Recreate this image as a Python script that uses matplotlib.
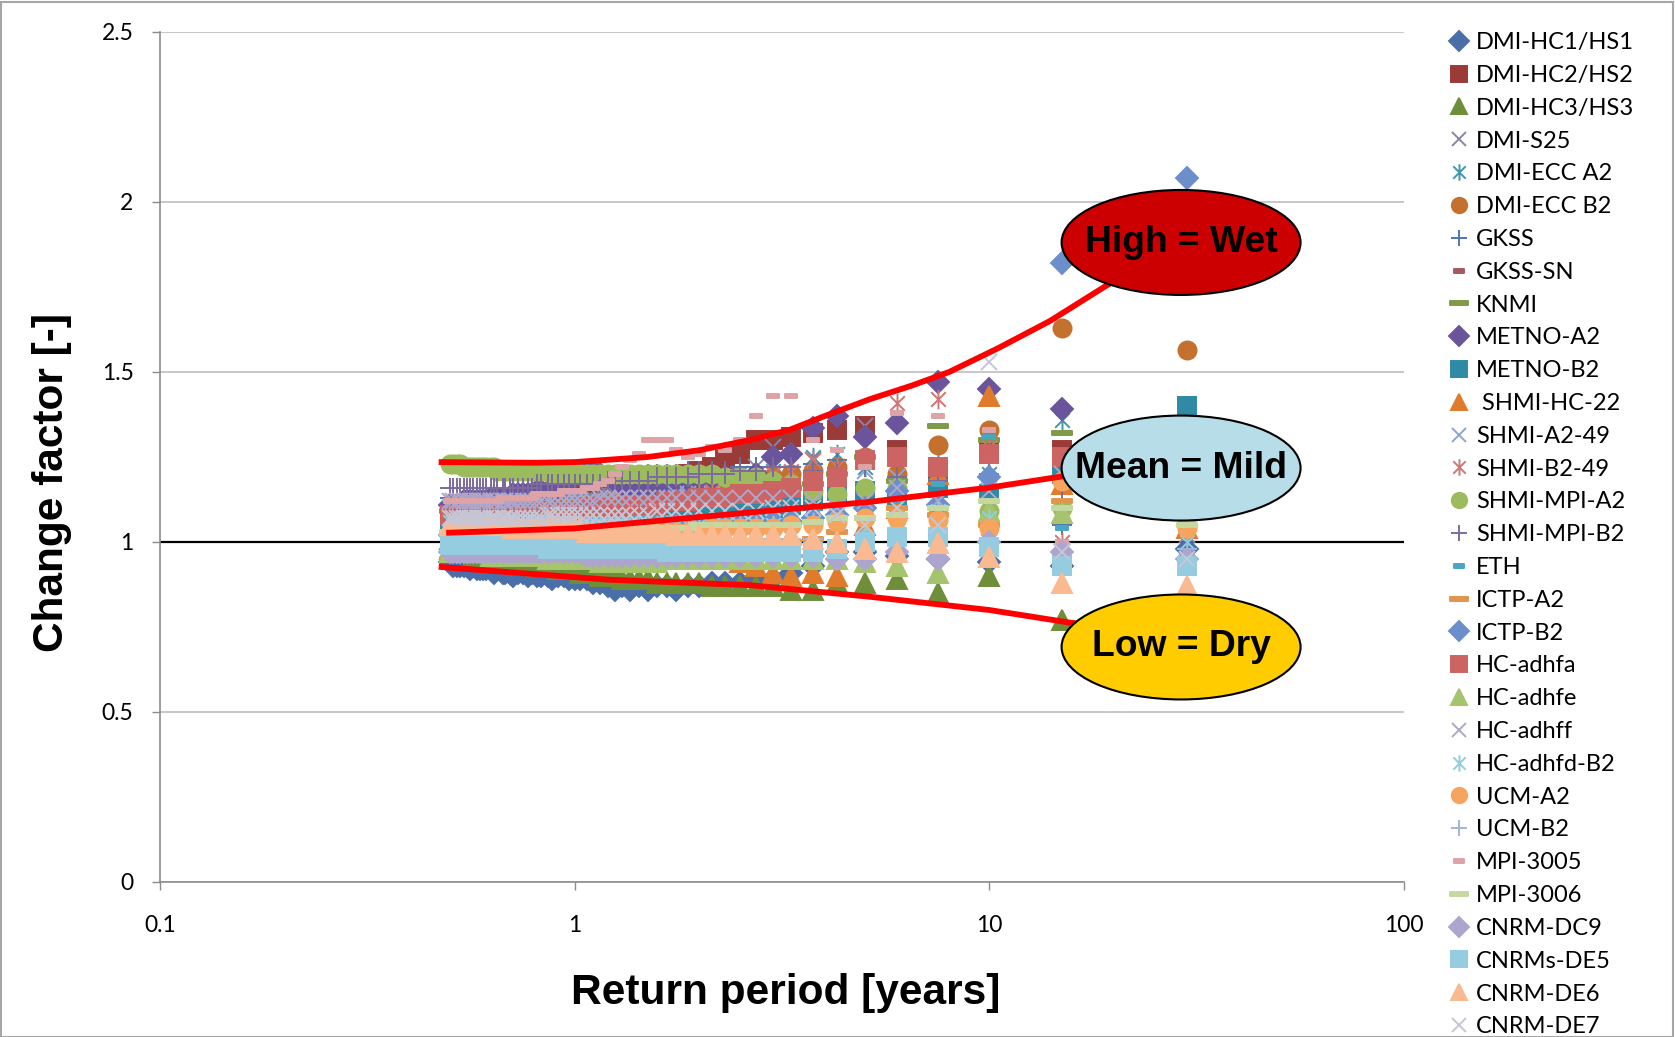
import matplotlib
matplotlib.use("Agg")
import matplotlib.pyplot as plt
from matplotlib.patches import Ellipse, Rectangle
from matplotlib.path import Path

# return periods [years] of the ranked events (largest first)
return_period = [30, 15, 10, 7.5, 6, 5, 4.29, 3.75, 3.33, 3.0,
                 2.73, 2.5, 2.31, 2.14, 2.0, 1.88, 1.76, 1.67, 1.58, 1.5,
                 1.43, 1.36, 1.3, 1.25, 1.2, 1.15, 1.11, 1.07, 1.03, 1.0,
                 0.97, 0.94, 0.91, 0.88, 0.86, 0.83, 0.81, 0.79, 0.77, 0.75,
                 0.73, 0.71, 0.70, 0.68, 0.67, 0.65, 0.64, 0.63, 0.61, 0.60,
                 0.59, 0.58, 0.57, 0.56, 0.55, 0.54, 0.53, 0.52, 0.51, 0.50]

dmi_hc1 = [0.98, 0.93, 0.94, 0.95, 0.96, 0.97, 0.97, 0.93, 0.91, 0.89,
           0.89, 0.88, 0.88, 0.88, 0.87, 0.87, 0.86, 0.87, 0.87, 0.86,
           0.87, 0.86, 0.87, 0.86, 0.87, 0.88, 0.88, 0.89, 0.89, 0.89,
           0.89, 0.90, 0.90, 0.89, 0.90, 0.90, 0.90, 0.91, 0.90, 0.91,
           0.91, 0.90, 0.91, 0.91, 0.91, 0.92, 0.91, 0.92, 0.92, 0.92,
           0.92, 0.92, 0.93, 0.92, 0.93, 0.93, 0.93, 0.93, 0.93, 0.94]
dmi_hc2 = [1.22, 1.27, 1.27, 1.21, 1.27, 1.34, 1.33, 1.32, 1.31, 1.30,
           1.30, 1.26, 1.24, 1.22, 1.21, 1.20, 1.19, 1.19, 1.18, 1.18,
           1.17, 1.17, 1.16, 1.16, 1.16, 1.15, 1.15, 1.15, 1.14, 1.14,
           1.14, 1.14, 1.13, 1.13, 1.13, 1.13, 1.12, 1.12, 1.12, 1.12,
           1.12, 1.11, 1.11, 1.11, 1.11, 1.11, 1.10, 1.10, 1.10, 1.10,
           1.10, 1.10, 1.10, 1.09, 1.09, 1.09, 1.09, 1.09, 1.09, 1.08]
dmi_hc3 = [0.74, 0.77, 0.90, 0.85, 0.89, 0.88, 0.88, 0.86, 0.86, 0.87,
           0.87, 0.87, 0.87, 0.87, 0.88, 0.88, 0.88, 0.88, 0.88, 0.89,
           0.89, 0.89, 0.89, 0.90, 0.90, 0.90, 0.91, 0.91, 0.91, 0.92,
           0.92, 0.92, 0.92, 0.93, 0.93, 0.93, 0.93, 0.94, 0.94, 0.94,
           0.94, 0.94, 0.95, 0.95, 0.95, 0.95, 0.95, 0.96, 0.96, 0.96,
           0.96, 0.96, 0.96, 0.97, 0.97, 0.97, 0.97, 0.97, 0.97, 0.98]
dmi_s25 = [1.02, 0.97, 1.10, 1.05, 1.12, 1.34, 1.22, 1.24, 1.20, 1.28,
           1.22, 1.20, 1.19, 1.18, 1.17, 1.17, 1.16, 1.16, 1.16, 1.15,
           1.15, 1.15, 1.14, 1.14, 1.14, 1.14, 1.13, 1.13, 1.13, 1.13,
           1.13, 1.12, 1.12, 1.12, 1.12, 1.12, 1.12, 1.11, 1.11, 1.11,
           1.11, 1.11, 1.11, 1.11, 1.10, 1.10, 1.10, 1.10, 1.10, 1.10,
           1.10, 1.10, 1.09, 1.09, 1.09, 1.09, 1.09, 1.09, 1.09, 1.08]
dmi_ecc_a2 = [1.15, 1.36, 1.20, 1.23, 1.18, 1.22, 1.26, 1.25, 1.23, 1.21,
              1.20, 1.19, 1.18, 1.17, 1.17, 1.16, 1.15, 1.15, 1.14, 1.14,
              1.14, 1.13, 1.13, 1.13, 1.12, 1.12, 1.12, 1.12, 1.11, 1.11,
              1.11, 1.11, 1.11, 1.10, 1.10, 1.10, 1.10, 1.10, 1.10, 1.09,
              1.09, 1.09, 1.09, 1.09, 1.09, 1.09, 1.08, 1.08, 1.08, 1.08,
              1.08, 1.08, 1.08, 1.08, 1.08, 1.07, 1.07, 1.07, 1.07, 1.07]
dmi_ecc_b2 = [1.565, 1.63, 1.33, 1.285, 1.20, 1.25, 1.22, 1.21, 1.20, 1.19,
              1.18, 1.17, 1.16, 1.16, 1.15, 1.15, 1.14, 1.14, 1.13, 1.13,
              1.13, 1.12, 1.12, 1.12, 1.11, 1.11, 1.11, 1.11, 1.10, 1.10,
              1.10, 1.10, 1.10, 1.09, 1.09, 1.09, 1.09, 1.09, 1.08, 1.08,
              1.08, 1.08, 1.08, 1.08, 1.07, 1.07, 1.07, 1.07, 1.07, 1.07,
              1.07, 1.06, 1.06, 1.06, 1.06, 1.06, 1.06, 1.06, 1.05, 1.05]
gkss = [0.98, 1.05, 1.26, 1.14, 1.18, 1.23, 1.24, 1.23, 1.22, 1.22,
        1.22, 1.22, 1.21, 1.21, 1.21, 1.21, 1.20, 1.20, 1.20, 1.20,
        1.19, 1.19, 1.19, 1.19, 1.18, 1.18, 1.18, 1.18, 1.17, 1.17,
        1.17, 1.17, 1.17, 1.16, 1.16, 1.16, 1.16, 1.16, 1.15, 1.15,
        1.15, 1.15, 1.15, 1.15, 1.15, 1.14, 1.14, 1.14, 1.14, 1.14,
        1.14, 1.14, 1.14, 1.14, 1.13, 1.13, 1.13, 1.13, 1.13, 1.13]
gkss_sn = [1.11, 1.00, 1.13, 1.09, 1.08, 1.10, 1.08, 1.08, 1.07, 1.07,
           1.07, 1.07, 1.07, 1.06, 1.06, 1.06, 1.06, 1.06, 1.06, 1.05,
           1.05, 1.05, 1.05, 1.05, 1.05, 1.05, 1.05, 1.04, 1.04, 1.04,
           1.04, 1.04, 1.04, 1.04, 1.04, 1.04, 1.04, 1.04, 1.03, 1.03,
           1.03, 1.03, 1.03, 1.03, 1.03, 1.03, 1.03, 1.03, 1.03, 1.03,
           1.03, 1.03, 1.03, 1.02, 1.02, 1.02, 1.02, 1.02, 1.02, 1.02]
knmi = [1.20, 1.32, 1.30, 1.34, 1.18, 1.25, 1.20, 1.17, 1.16, 1.15,
        1.15, 1.15, 1.14, 1.14, 1.14, 1.14, 1.13, 1.13, 1.13, 1.13,
        1.13, 1.12, 1.12, 1.12, 1.12, 1.12, 1.12, 1.12, 1.11, 1.11,
        1.11, 1.11, 1.11, 1.11, 1.11, 1.11, 1.10, 1.10, 1.10, 1.10,
        1.10, 1.10, 1.10, 1.10, 1.10, 1.10, 1.10, 1.10, 1.10, 1.09,
        1.09, 1.09, 1.09, 1.09, 1.09, 1.09, 1.09, 1.09, 1.09, 1.09]
metno_a2 = [1.25, 1.39, 1.45, 1.47, 1.35, 1.31, 1.37, 1.335, 1.26, 1.25,
            1.20, 1.19, 1.19, 1.18, 1.18, 1.18, 1.17, 1.17, 1.17, 1.17,
            1.16, 1.16, 1.17, 1.18, 1.19, 1.20, 1.21, 1.21, 1.20, 1.19,
            1.18, 1.17, 1.16, 1.16, 1.15, 1.15, 1.15, 1.14, 1.14, 1.14,
            1.14, 1.14, 1.13, 1.13, 1.13, 1.13, 1.13, 1.13, 1.12, 1.12,
            1.12, 1.12, 1.12, 1.12, 1.12, 1.12, 1.11, 1.11, 1.11, 1.11]
metno_b2 = [1.40, 1.20, 1.14, 1.16, 1.13, 1.15, 1.15, 1.12, 1.11, 1.10,
            1.10, 1.09, 1.09, 1.09, 1.08, 1.08, 1.08, 1.08, 1.07, 1.07,
            1.07, 1.07, 1.07, 1.07, 1.06, 1.06, 1.06, 1.06, 1.06, 1.06,
            1.06, 1.06, 1.05, 1.05, 1.05, 1.05, 1.05, 1.05, 1.05, 1.05,
            1.05, 1.05, 1.05, 1.05, 1.04, 1.04, 1.04, 1.04, 1.04, 1.04,
            1.04, 1.04, 1.04, 1.04, 1.04, 1.04, 1.04, 1.04, 1.04, 1.04]
shmi_hc22 = [1.04, 1.17, 1.43, 1.20, 1.10, 1.05, 0.90, 0.91, 0.90, 0.91,
             0.93, 0.94, 0.95, 0.95, 0.96, 0.96, 0.96, 0.97, 0.97, 0.97,
             0.97, 0.97, 0.98, 0.98, 0.98, 0.98, 0.98, 0.98, 0.98, 0.99,
             0.99, 0.99, 0.99, 0.99, 0.99, 0.99, 0.99, 0.99, 1.00, 1.00,
             1.00, 1.00, 1.00, 1.00, 1.00, 1.00, 1.00, 1.00, 1.00, 1.00,
             1.00, 1.01, 1.01, 1.01, 1.01, 1.01, 1.01, 1.01, 1.01, 1.01]
shmi_a2_49 = [0.96, 0.97, 1.00, 1.02, 1.19, 1.21, 1.12, 1.15, 1.16, 1.15,
              1.15, 1.15, 1.14, 1.14, 1.14, 1.14, 1.14, 1.13, 1.13, 1.13,
              1.13, 1.13, 1.13, 1.13, 1.12, 1.12, 1.12, 1.12, 1.12, 1.12,
              1.12, 1.12, 1.12, 1.12, 1.11, 1.11, 1.11, 1.11, 1.11, 1.11,
              1.11, 1.11, 1.11, 1.11, 1.11, 1.11, 1.11, 1.10, 1.10, 1.10,
              1.10, 1.10, 1.10, 1.10, 1.10, 1.10, 1.10, 1.10, 1.10, 1.10]
shmi_b2_49 = [1.26, 1.00, 1.28, 1.42, 1.41, 1.25, 1.22, 1.24, 1.21, 1.20,
              1.18, 1.17, 1.16, 1.15, 1.14, 1.13, 1.13, 1.12, 1.12, 1.11,
              1.11, 1.11, 1.10, 1.10, 1.10, 1.10, 1.10, 1.09, 1.09, 1.09,
              1.09, 1.09, 1.09, 1.09, 1.08, 1.08, 1.08, 1.08, 1.08, 1.08,
              1.08, 1.08, 1.08, 1.08, 1.08, 1.07, 1.07, 1.07, 1.07, 1.07,
              1.07, 1.07, 1.07, 1.07, 1.07, 1.07, 1.07, 1.07, 1.07, 1.07]
shmi_mpi_a2 = [1.10, 1.10, 1.09, 1.10, 1.16, 1.16, 1.14, 1.15, 1.17, 1.18,
               1.19, 1.19, 1.19, 1.20, 1.20, 1.20, 1.20, 1.20, 1.20, 1.20,
               1.20, 1.20, 1.20, 1.20, 1.20, 1.20, 1.20, 1.20, 1.20, 1.20,
               1.20, 1.20, 1.20, 1.20, 1.21, 1.21, 1.21, 1.21, 1.21, 1.21,
               1.21, 1.21, 1.21, 1.21, 1.21, 1.21, 1.22, 1.22, 1.22, 1.22,
               1.22, 1.22, 1.22, 1.22, 1.22, 1.22, 1.23, 1.23, 1.23, 1.23]
shmi_mpi_b2 = [1.22, 1.12, 1.20, 1.18, 1.19, 1.22, 1.20, 1.21, 1.22, 1.22,
               1.21, 1.21, 1.20, 1.20, 1.20, 1.19, 1.19, 1.19, 1.19, 1.18,
               1.18, 1.18, 1.18, 1.18, 1.18, 1.17, 1.17, 1.17, 1.17, 1.17,
               1.17, 1.17, 1.17, 1.17, 1.17, 1.17, 1.17, 1.16, 1.16, 1.16,
               1.16, 1.16, 1.16, 1.16, 1.16, 1.16, 1.16, 1.16, 1.16, 1.16,
               1.16, 1.16, 1.16, 1.16, 1.16, 1.16, 1.16, 1.16, 1.16, 1.16]
eth = [1.06, 1.04, 1.31, 1.17, 1.12, 1.08, 1.10, 1.09, 1.08, 1.08,
       1.08, 1.08, 1.08, 1.07, 1.07, 1.07, 1.07, 1.07, 1.07, 1.07,
       1.07, 1.06, 1.06, 1.06, 1.06, 1.06, 1.06, 1.06, 1.06, 1.06,
       1.06, 1.06, 1.06, 1.06, 1.06, 1.05, 1.05, 1.05, 1.05, 1.05,
       1.05, 1.05, 1.05, 1.05, 1.05, 1.05, 1.05, 1.05, 1.05, 1.05,
       1.05, 1.05, 1.05, 1.05, 1.05, 1.05, 1.05, 1.05, 1.05, 1.05]
ictp_a2 = [1.08, 1.12, 1.05, 1.08, 1.10, 1.07, 1.03, 1.01, 1.00, 0.99,
           0.98, 0.98, 0.97, 0.97, 0.97, 0.97, 0.96, 0.96, 0.96, 0.96,
           0.96, 0.96, 0.96, 0.96, 0.96, 0.96, 0.96, 0.95, 0.95, 0.95,
           0.95, 0.95, 0.95, 0.95, 0.95, 0.95, 0.95, 0.95, 0.95, 0.95,
           0.95, 0.95, 0.95, 0.95, 0.95, 0.95, 0.95, 0.95, 0.95, 0.95,
           0.95, 0.95, 0.95, 0.95, 0.95, 0.95, 0.95, 0.95, 0.95, 0.95]
ictp_b2 = [2.07, 1.82, 1.19, 1.11, 1.15, 1.10, 1.08, 1.07, 1.06, 1.06,
           1.06, 1.06, 1.05, 1.05, 1.05, 1.05, 1.05, 1.04, 1.04, 1.04,
           1.04, 1.04, 1.04, 1.04, 1.04, 1.03, 1.03, 1.03, 1.03, 1.03,
           1.03, 1.03, 1.03, 1.03, 1.03, 1.03, 1.03, 1.03, 1.03, 1.03,
           1.02, 1.02, 1.02, 1.02, 1.02, 1.02, 1.02, 1.02, 1.02, 1.02,
           1.02, 1.02, 1.02, 1.02, 1.02, 1.02, 1.02, 1.02, 1.02, 1.02]
hc_adhfa = [1.24, 1.25, 1.26, 1.22, 1.25, 1.24, 1.19, 1.18, 1.16, 1.15,
            1.14, 1.14, 1.13, 1.13, 1.13, 1.12, 1.12, 1.12, 1.11, 1.11,
            1.11, 1.11, 1.10, 1.10, 1.10, 1.10, 1.10, 1.10, 1.09, 1.09,
            1.09, 1.09, 1.09, 1.09, 1.09, 1.09, 1.09, 1.08, 1.08, 1.08,
            1.08, 1.08, 1.08, 1.08, 1.08, 1.08, 1.08, 1.08, 1.08, 1.08,
            1.08, 1.08, 1.08, 1.08, 1.08, 1.08, 1.08, 1.08, 1.08, 1.08]
hc_adhfe = [1.08, 1.085, 1.09, 0.91, 0.93, 0.94, 0.95, 0.95, 0.95, 0.95,
            0.95, 0.95, 0.95, 0.95, 0.95, 0.95, 0.95, 0.95, 0.94, 0.94,
            0.94, 0.94, 0.94, 0.94, 0.94, 0.94, 0.95, 0.95, 0.95, 0.95,
            0.95, 0.95, 0.95, 0.95, 0.95, 0.96, 0.96, 0.96, 0.96, 0.96,
            0.96, 0.96, 0.96, 0.96, 0.96, 0.96, 0.96, 0.96, 0.97, 0.97,
            0.97, 0.97, 0.97, 0.97, 0.97, 0.97, 0.97, 0.97, 0.97, 0.97]
hc_adhff = [1.10, 1.20, 1.15, 1.12, 1.16, 1.12, 1.10, 1.12, 1.13, 1.13,
            1.13, 1.13, 1.13, 1.13, 1.13, 1.13, 1.13, 1.13, 1.13, 1.13,
            1.13, 1.13, 1.13, 1.13, 1.13, 1.13, 1.12, 1.12, 1.12, 1.12,
            1.12, 1.12, 1.12, 1.12, 1.12, 1.12, 1.12, 1.12, 1.12, 1.12,
            1.12, 1.12, 1.12, 1.12, 1.12, 1.12, 1.12, 1.12, 1.12, 1.12,
            1.12, 1.12, 1.12, 1.12, 1.12, 1.12, 1.12, 1.12, 1.12, 1.12]
hc_adhfd_b2 = [1.00, 0.98, 1.07, 1.09, 1.03, 1.04, 1.06, 1.06, 1.05, 1.05,
               1.05, 1.05, 1.05, 1.05, 1.05, 1.05, 1.05, 1.05, 1.05, 1.05,
               1.05, 1.05, 1.05, 1.05, 1.05, 1.05, 1.05, 1.05, 1.05, 1.05,
               1.06, 1.06, 1.06, 1.06, 1.06, 1.06, 1.06, 1.06, 1.06, 1.06,
               1.06, 1.06, 1.06, 1.06, 1.06, 1.06, 1.06, 1.06, 1.06, 1.06,
               1.06, 1.06, 1.06, 1.06, 1.06, 1.06, 1.06, 1.06, 1.06, 1.06]
ucm_a2 = [1.04, 1.18, 1.04, 1.065, 1.07, 1.07, 1.06, 1.05, 1.05, 1.04,
          1.04, 1.04, 1.04, 1.04, 1.03, 1.03, 1.03, 1.03, 1.03, 1.03,
          1.03, 1.03, 1.03, 1.03, 1.03, 1.03, 1.03, 1.03, 1.03, 1.02,
          1.02, 1.02, 1.02, 1.02, 1.02, 1.02, 1.02, 1.02, 1.02, 1.02,
          1.02, 1.02, 1.02, 1.02, 1.02, 1.02, 1.02, 1.02, 1.02, 1.02,
          1.02, 1.02, 1.02, 1.02, 1.02, 1.02, 1.02, 1.02, 1.02, 1.02]
ucm_b2 = [0.98, 0.96, 1.00, 1.02, 1.01, 1.00, 1.00, 1.01, 1.01, 1.01,
          1.01, 1.01, 1.01, 1.01, 1.01, 1.01, 1.01, 1.00, 1.00, 1.00,
          1.00, 1.00, 1.00, 1.00, 1.00, 1.00, 1.00, 1.00, 1.00, 1.00,
          1.00, 1.00, 1.00, 1.00, 1.00, 1.00, 1.00, 1.00, 1.00, 1.00,
          1.00, 1.00, 1.00, 1.00, 1.00, 1.00, 1.00, 1.00, 1.00, 1.00,
          1.00, 1.00, 1.00, 1.00, 1.00, 1.00, 1.00, 1.00, 1.00, 1.00]
mpi_3005 = [1.10, 1.00, 1.33, 1.37, 1.38, 1.22, 1.27, 1.30, 1.43, 1.43,
            1.37, 1.30, 1.27, 1.28, 1.26, 1.25, 1.27, 1.30, 1.30, 1.30,
            1.26, 1.24, 1.22, 1.20, 1.18, 1.17, 1.16, 1.16, 1.15, 1.15,
            1.15, 1.15, 1.14, 1.14, 1.14, 1.14, 1.14, 1.13, 1.13, 1.13,
            1.13, 1.13, 1.13, 1.13, 1.13, 1.12, 1.12, 1.12, 1.12, 1.12,
            1.12, 1.12, 1.12, 1.12, 1.12, 1.12, 1.12, 1.12, 1.12, 1.12]
mpi_3006 = [1.05, 1.10, 1.12, 1.10, 1.08, 1.07, 1.07, 1.06, 1.05, 1.05,
            1.05, 1.05, 1.05, 1.05, 1.05, 1.04, 1.04, 1.04, 1.04, 1.04,
            1.04, 1.04, 1.04, 1.04, 1.04, 1.04, 1.04, 1.04, 1.04, 1.04,
            1.04, 1.04, 1.03, 1.03, 1.03, 1.03, 1.03, 1.03, 1.03, 1.03,
            1.03, 1.03, 1.03, 1.03, 1.03, 1.03, 1.03, 1.03, 1.03, 1.03,
            1.03, 1.03, 1.03, 1.03, 1.03, 1.03, 1.03, 1.03, 1.03, 1.03]
cnrm_dc9 = [0.95, 0.97, 1.00, 0.95, 0.97, 0.95, 0.95, 0.96, 0.96, 0.96,
            0.96, 0.96, 0.96, 0.96, 0.96, 0.96, 0.96, 0.96, 0.96, 0.96,
            0.96, 0.96, 0.96, 0.96, 0.96, 0.96, 0.96, 0.96, 0.97, 0.97,
            0.97, 0.97, 0.97, 0.97, 0.97, 0.97, 0.97, 0.97, 0.97, 0.97,
            0.97, 0.97, 0.97, 0.97, 0.97, 0.97, 0.97, 0.97, 0.97, 0.97,
            0.97, 0.97, 0.97, 0.97, 0.97, 0.97, 0.97, 0.97, 0.97, 0.97]
cnrms_de5 = [0.93, 0.93, 0.985, 1.015, 1.015, 1.00, 0.98, 0.97, 0.97, 0.97,
             0.97, 0.97, 0.97, 0.97, 0.97, 0.97, 0.97, 0.97, 0.98, 0.98,
             0.98, 0.98, 0.98, 0.98, 0.98, 0.98, 0.98, 0.98, 0.98, 0.98,
             0.98, 0.98, 0.98, 0.98, 0.98, 0.99, 0.99, 0.99, 0.99, 0.99,
             0.99, 0.99, 0.99, 0.99, 0.99, 0.99, 0.99, 0.99, 0.99, 0.99,
             0.99, 0.99, 0.99, 0.99, 0.99, 0.99, 0.99, 0.99, 0.99, 0.99]
cnrm_de6 = [0.87, 0.88, 0.955, 0.997, 0.97, 0.98, 1.00, 1.01, 1.02, 1.02,
            1.02, 1.02, 1.02, 1.02, 1.02, 1.02, 1.02, 1.03, 1.03, 1.03,
            1.03, 1.03, 1.03, 1.03, 1.03, 1.03, 1.03, 1.03, 1.04, 1.04,
            1.04, 1.04, 1.04, 1.04, 1.04, 1.04, 1.04, 1.04, 1.04, 1.04,
            1.04, 1.04, 1.05, 1.05, 1.05, 1.05, 1.05, 1.05, 1.05, 1.05,
            1.05, 1.05, 1.05, 1.05, 1.05, 1.05, 1.05, 1.05, 1.05, 1.05]
cnrm_de7 = [0.95, 0.97, 1.53, 1.05, 1.10, 1.05, 1.08, 1.10, 1.10, 1.10,
            1.09, 1.09, 1.09, 1.09, 1.09, 1.09, 1.09, 1.09, 1.09, 1.08,
            1.08, 1.08, 1.08, 1.08, 1.08, 1.08, 1.08, 1.08, 1.08, 1.08,
            1.08, 1.08, 1.08, 1.08, 1.08, 1.07, 1.07, 1.07, 1.07, 1.07,
            1.07, 1.07, 1.07, 1.07, 1.07, 1.07, 1.07, 1.07, 1.07, 1.07,
            1.07, 1.07, 1.07, 1.07, 1.07, 1.07, 1.07, 1.07, 1.07, 1.07]

names = ["DMI-HC1/HS1", "DMI-HC2/HS2", "DMI-HC3/HS3", "DMI-S25", "DMI-ECC A2",
         "DMI-ECC B2", "GKSS", "GKSS-SN", "KNMI", "METNO-A2", "METNO-B2",
         " SHMI-HC-22", "SHMI-A2-49", "SHMI-B2-49", "SHMI-MPI-A2", "SHMI-MPI-B2",
         "ETH", "ICTP-A2", "ICTP-B2", "HC-adhfa", "HC-adhfe", "HC-adhff",
         "HC-adhfd-B2", "UCM-A2", "UCM-B2", "MPI-3005", "MPI-3006", "CNRM-DC9",
         "CNRMs-DE5", "CNRM-DE6", "CNRM-DE7"]
series = [dmi_hc1, dmi_hc2, dmi_hc3, dmi_s25, dmi_ecc_a2, dmi_ecc_b2, gkss,
          gkss_sn, knmi, metno_a2, metno_b2, shmi_hc22, shmi_a2_49, shmi_b2_49,
          shmi_mpi_a2, shmi_mpi_b2, eth, ictp_a2, ictp_b2, hc_adhfa, hc_adhfe,
          hc_adhff, hc_adhfd_b2, ucm_a2, ucm_b2, mpi_3005, mpi_3006, cnrm_dc9,
          cnrms_de5, cnrm_de6, cnrm_de7]
colors = ["#4A6EA8", "#9B3B38", "#6E8E3A", "#8A84A8", "#3F97AF", "#C4702E",
          "#4F76B2", "#A6595C", "#7F9A48", "#6A549C", "#2F8AA6", "#E07B2C",
          "#8FA5CE", "#D17672", "#9CBB5C", "#7D6B9E", "#48A6C2", "#E2954D",
          "#6C8FCC", "#CB6462", "#A5C46D", "#AFA6CB", "#8FD0E0", "#F7A45E",
          "#A2B5D6", "#DDA3A6", "#C5D8A0", "#ADA5CE", "#95CCE0", "#F9BA92",
          "#C6C6D6"]

# hand-drawn envelope curves (return period, change factor)
high_T = [0.47, 0.8, 1.0, 1.5, 2.0, 2.65, 3.3, 4.0, 5.15, 6.5, 8.0, 10.5, 14.0, 19.5, 24.0]
high_v = [1.235, 1.233, 1.235, 1.25, 1.27, 1.30, 1.33, 1.37, 1.42, 1.46, 1.50, 1.57, 1.65, 1.76, 1.83]
mean_T = [0.49, 1.0, 2.65, 5.15, 10.0, 15.0, 24.0]
mean_v = [1.027, 1.04, 1.087, 1.118, 1.16, 1.193, 1.23]
low_T = [0.47, 1.21, 2.65, 5.15, 10.0, 15.6, 24.0]
low_v = [0.927, 0.889, 0.873, 0.839, 0.80, 0.763, 0.74]

# marker shapes as in the spreadsheet legend
star = Path([(0, -1), (0, 1), (-0.75, -0.75), (0.75, 0.75), (-0.75, 0.75), (0.75, -0.75)],
            [Path.MOVETO, Path.LINETO] * 3)
short_bar = Path([(-1, -0.35), (1, -0.35), (1, 0.35), (-1, 0.35), (-1, -0.35)], closed=True)
long_bar = Path([(-1, -0.22), (1, -0.22), (1, 0.22), (-1, 0.22), (-1, -0.22)], closed=True)
shapes = [("D", 11.5, True), ("s", 13, True), ("^", 14, True), ("x", 12, False),
          (star, 14, False), ("o", 13, True), ("+", 14, False),
          (short_bar, 9, True), (long_bar, 15, True)]

fig = plt.figure(figsize=(16.75, 10.37), dpi=100)
ax = fig.add_axes([160 / 1675, 155 / 1037, 1244 / 1675, 850 / 1037])

ax.axhline(1.0, color="black", lw=1.6, zorder=1.5)
handles = []
for i, (name, vals, c) in enumerate(zip(names, series, colors)):
    m, ms, filled = shapes[i % len(shapes)]
    h, = ax.plot(return_period, vals, linestyle="none", marker=m, ms=ms,
                 color=c, mec=c, mfc=c if filled else "none", mew=1.4,
                 label=name, zorder=2)
    handles.append(h)

for tt, vv in [(high_T, high_v), (mean_T, mean_v), (low_T, low_v)]:
    ax.plot(tt, vv, color="red", lw=4.2, zorder=8, solid_capstyle="butt")

ellipses = [(0.7524, "#CC0000", "High = Wet"),
            (0.4870, "#B7DEE8", "Mean = Mild"),
            (0.2765, "#FFCC00", "Low = Dry")]
for yc, fc, txt in ellipses:
    ax.add_patch(Ellipse((0.8208, yc), 0.1921, 0.1235, transform=ax.transAxes,
                         fc=fc, ec="black", lw=1.5, zorder=10, clip_on=False))
    ax.text(0.8208, yc, txt, transform=ax.transAxes, ha="center", va="center",
            fontsize=26.8, fontweight="bold", family="Liberation Sans", zorder=11)

ax.set_xscale("log")
ax.set_xlim(0.1, 100)
ax.set_ylim(0, 2.5)
ax.set_xticks([0.1, 1, 10, 100])
ax.set_xticklabels(["0.1", "1", "10", "100"])
ax.set_yticks([0, 0.5, 1, 1.5, 2, 2.5])
ax.set_yticklabels(["0", "0.5", "1", "1.5", "2", "2.5"])
ax.minorticks_off()
ax.tick_params(direction="out", length=6, width=1, color="#8C8C8C",
               labelsize=16.5)
ax.tick_params(axis="x", pad=18)
ax.tick_params(axis="y", pad=13)
for lab in ax.get_xticklabels() + ax.get_yticklabels():
    lab.set_family("Lato")
ax.yaxis.grid(True, color="#BFBFBF", lw=1.2)
ax.set_axisbelow(True)
for side in ["top", "right"]:
    ax.spines[side].set_visible(False)
for side in ["left", "bottom"]:
    ax.spines[side].set_color("#8C8C8C")
    ax.spines[side].set_linewidth(1.2)

ax.set_xlabel("Return period [years]", fontsize=30.5, fontweight="bold",
              family="Liberation Sans")
ax.set_ylabel("Change factor [-]", fontsize=30.5, fontweight="bold",
              family="Liberation Sans")
ax.xaxis.label.set_va("center")
ax.yaxis.label.set_va("center")
ax.xaxis.set_label_coords(0.503, -0.131)
ax.yaxis.set_label_coords(-0.087, 0.47)

fig.legend(handles=handles, loc="upper left", bbox_to_anchor=(0.8657, 0.969),
           frameon=False, handlelength=0.8, handletextpad=0.3, markerscale=0.85,
           borderpad=0, borderaxespad=0, labelspacing=0.50, numpoints=1,
           prop={"family": "Lato", "size": 17})

fig.patches.append(Rectangle((0.0006, 0.0), 0.9982, 0.998, transform=fig.transFigure,
                             fill=False, ec="#A6A6A6", lw=1.5))

fig.savefig("out.png", dpi=100)
